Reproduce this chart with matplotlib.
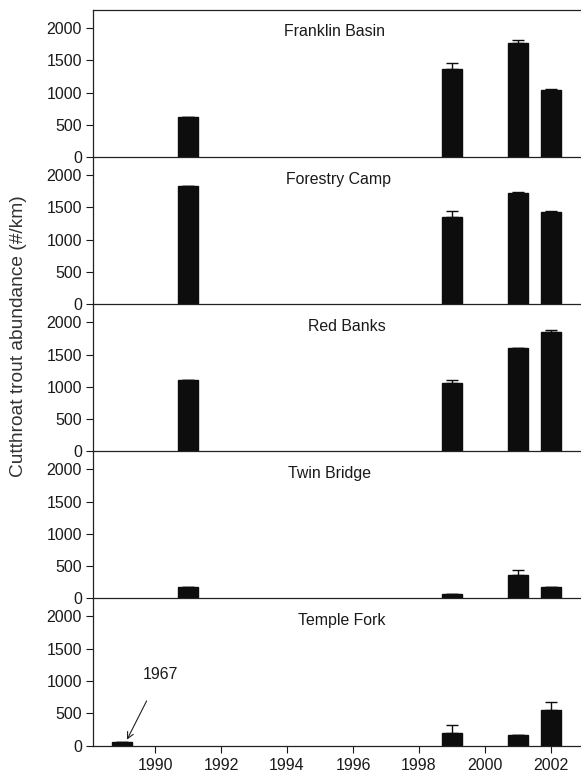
import numpy as np
import matplotlib
matplotlib.use('Agg')
import matplotlib.pyplot as plt

plt.rcParams['font.family'] = ['Liberation Sans', 'DejaVu Sans']

#Sites, top to bottom
sites = ['Franklin Basin', 'Forestry Camp', 'Red Banks', 'Twin Bridge', 'Temple Fork']
#Sample years (1989 slot holds the 1967 survey at Temple Fork)
years = [1989, 1991, 1999, 2001, 2002]
#Abundance (#/km), one list per site, 0 = not sampled
franklin = [0, 620, 1360, 1770, 1040]
forestry = [0, 1835, 1355, 1730, 1430]
redbanks = [0, 1105, 1065, 1600, 1855]
twin = [0, 170, 62, 367, 177]
temple = [56, 0, 200, 165, 543]
#Upper error bars
franklin_err = [0, 0, 100, 45, 12]
forestry_err = [0, 0, 95, 10, 15]
redbanks_err = [0, 0, 40, 5, 25]
twin_err = [0, 0, 12, 67, 6]
temple_err = [0, 0, 113, 0, 133]

values = [franklin, forestry, redbanks, twin, temple]
errors = [franklin_err, forestry_err, redbanks_err, twin_err, temple_err]
#title x positions (data coords), panel titles are not all on the same center
title_x = [1995.45, 1995.55, 1995.8, 1995.3, 1995.65]

fig = plt.figure(figsize=[5.81, 7.74], dpi=100)
left = 93/581.
right = 1.0165
top = 1 - 10/774.
bottom = 1 - 745.5/774.
h = (top - bottom)/5.

txt = '#1a1a1a'
for i in range(5):
    ax = fig.add_axes([left, top - (i+1)*h, right - left, h])
    ax.patch.set_alpha(0)
    v = np.array(values[i], dtype=float)
    e = np.array(errors[i], dtype=float)
    yr = np.array(years, dtype=float)
    keep = v > 0
    ax.bar(yr[keep], v[keep], width=0.6, color='#0d0d0d', edgecolor='#0d0d0d', zorder=2)
    ax.errorbar(yr[keep], v[keep], yerr=[np.zeros(keep.sum()), e[keep]], fmt='none',
                ecolor='#0d0d0d', elinewidth=1, capsize=4, capthick=1, zorder=3)
    ax.set_xlim(1988.12, 2003.2)
    ax.set_ylim(0, 2280)
    ax.set_yticks([0, 500, 1000, 1500, 2000])
    ax.tick_params(axis='y', direction='out', length=5, width=0.8, labelsize=11.5,
                   colors=txt, pad=3)
    ax.text(title_x[i], 1940, sites[i], ha='center', va='center', fontsize=11.4, color=txt)
    for s in ax.spines.values():
        s.set_linewidth(0.9)
        s.set_color('#222222')
    if i > 0:
        ax.spines['top'].set_visible(False)
    if i < 4:
        ax.set_xticks([])
    else:
        ax.set_xticks(np.arange(1990, 2003, 2))
        ax.tick_params(axis='x', direction='out', length=5, width=0.8, labelsize=11.5,
                       colors=txt, pad=4)
        ax.annotate('1967', xy=(1989.15, 90), xytext=(1990.15, 1100), ha='center',
                    va='center', fontsize=11.4, color=txt,
                    arrowprops=dict(arrowstyle='->', color='#222222', lw=0.8,
                                    shrinkA=13, shrinkB=0))

fig.text(0.032, 0.566, 'Cutthroat trout abundance (#/km)', rotation=90, ha='center',
         va='center', fontsize=13.8, color='#333333')

fig.savefig('out.png', dpi=100)
